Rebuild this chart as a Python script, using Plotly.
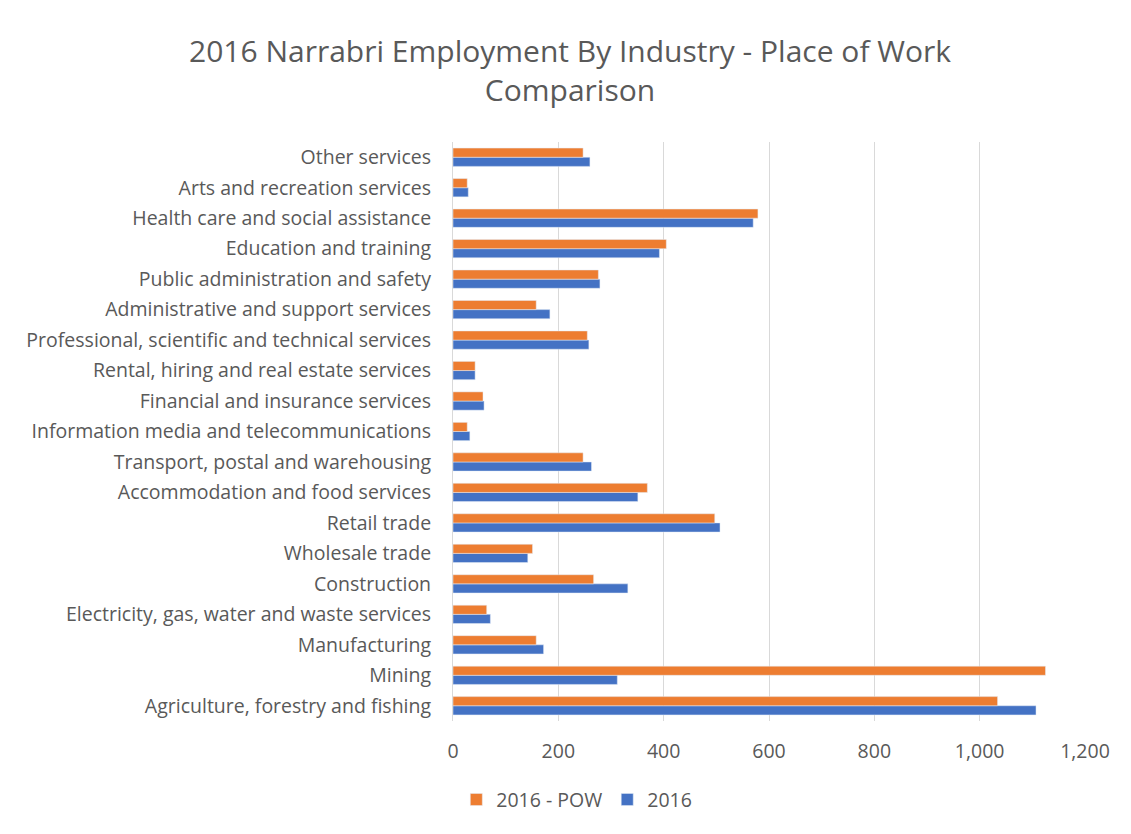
import plotly.graph_objects as go

categories = [
    "Agriculture, forestry and fishing",
    "Mining",
    "Manufacturing",
    "Electricity, gas, water and waste services",
    "Construction",
    "Wholesale trade",
    "Retail trade",
    "Accommodation and food services",
    "Transport, postal and warehousing",
    "Information media and telecommunications",
    "Financial and insurance services",
    "Rental, hiring and real estate services",
    "Professional, scientific and technical services",
    "Administrative and support services",
    "Public administration and safety",
    "Education and training",
    "Health care and social assistance",
    "Arts and recreation services",
    "Other services",
]
pow_2016 = [1034, 1125, 158, 64, 267, 151, 497, 369, 247, 27, 57, 42, 255, 158, 276, 405, 579, 27, 247]
res_2016 = [1107, 312, 172, 71, 332, 142, 507, 351, 263, 32, 59, 42, 258, 184, 279, 392, 570, 29, 260]
tick_vals = [0, 200, 400, 600, 800, 1000, 1200]
tick_text = ["0", "200", "400", "600", "800", "1,000", "1,200"]

FONT = "Open Sans"
GRAY = "#595959"

fig = go.Figure()
fig.add_trace(go.Bar(
    y=categories, x=res_2016, orientation="h", name="2016",
    marker=dict(color="#4472C4"), legendrank=2,
))
fig.add_trace(go.Bar(
    y=categories, x=pow_2016, orientation="h", name="2016 - POW",
    marker=dict(color="#ED7D31"), legendrank=1,
))

fig.update_layout(
    width=1131, height=834,
    paper_bgcolor="white", plot_bgcolor="white",
    margin=dict(l=453, r=46, t=142, b=113),
    barmode="group", bargap=0.4, bargroupgap=0,
    font=dict(family=FONT, color=GRAY, size=19),
    title=dict(
        text="2016 Narrabri Employment By Industry - Place of Work<br>Comparison",
        x=0.504, xanchor="center", y=0.926, yanchor="middle",
        font=dict(family=FONT, size=30, color=GRAY),
    ),
    xaxis=dict(
        range=[0, 1200], tickvals=tick_vals, ticktext=tick_text,
        showgrid=True, gridcolor="#D9D9D9", gridwidth=1,
        zeroline=False, showline=False,
        tickfont=dict(family=FONT, size=19.5, color=GRAY),
        ticks="", ticklabelstandoff=16,
    ),
    yaxis=dict(
        type="category", showgrid=False, showline=True, linecolor="#D9D9D9",
        tickfont=dict(family=FONT, size=19.5, color=GRAY),
        ticks="", ticklabelstandoff=17,
    ),
    legend=dict(
        orientation="h", xref="container", yref="container",
        x=0.51, xanchor="center", y=0.041, yanchor="middle",
        font=dict(family=FONT, size=19.5, color=GRAY),
        itemwidth=30,
    ),
)

fig.write_html("out.html")
